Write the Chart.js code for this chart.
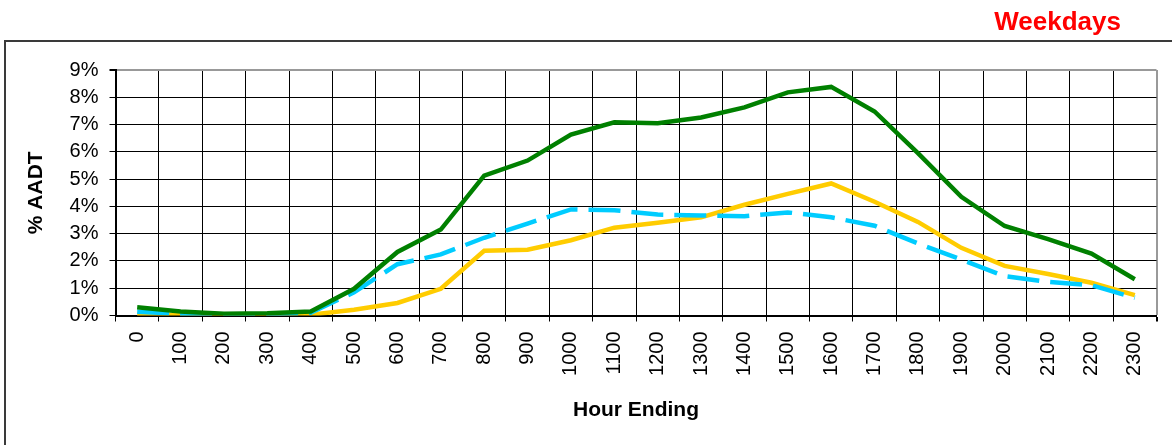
<!DOCTYPE html>
<html>
<head>
<meta charset="utf-8">
<script src="https://cdn.jsdelivr.net/npm/chart.js@4.4.1/dist/chart.umd.min.js"></script>
<style>
  html, body { margin: 0; padding: 0; background: #fff; }
  #wrap { width: 1172px; height: 445px; position: relative; }
</style>
</head>
<body>
<div id="wrap"><canvas id="c" width="1172" height="445"></canvas></div>
<script>
const hours = ['0','100','200','300','400','500','600','700','800','900','1000','1100',
               '1200','1300','1400','1500','1600','1700','1800','1900','2000','2100','2200','2300'];
const greenSeries  = [0.30,0.15,0.06,0.08,0.15,0.98,2.33,3.15,5.13,5.68,6.63,7.08,7.05,7.26,7.63,8.18,8.38,7.48,5.95,4.35,3.28,2.80,2.27,1.33];
const cyanSeries   = [0.14,0.06,0.03,0.05,0.10,0.85,1.88,2.24,2.85,3.37,3.89,3.86,3.70,3.67,3.64,3.78,3.60,3.29,2.64,2.05,1.44,1.23,1.11,0.65];
const yellowSeries = [0.03,0.02,0.02,0.02,0.03,0.21,0.46,0.98,2.37,2.41,2.76,3.22,3.40,3.60,4.06,4.46,4.84,4.17,3.43,2.48,1.82,1.52,1.20,0.75];
const yTicks = [0,1,2,3,4,5,6,7,8,9];
const chartTitle = 'Weekdays';
const xTitle = 'Hour Ending';
const yTitle = '% AADT';

const FONT = "'Liberation Sans', Arial, Helvetica, sans-serif";

const framePlugin = {
  id: 'frame',
  beforeDraw(chart) {
    const ctx = chart.ctx;
    ctx.save();
    ctx.fillStyle = '#fff';
    ctx.fillRect(0, 0, chart.width, chart.height);
    ctx.strokeStyle = '#3a3a3a';
    ctx.lineWidth = 2;
    ctx.beginPath();
    ctx.moveTo(5, chart.height + 2);
    ctx.lineTo(5, 41);
    ctx.lineTo(chart.width + 2, 41);
    ctx.stroke();
    ctx.restore();
  },
  afterLayout(chart) {
    const tb = chart.titleBlock;
    if (tb) { tb.right = 1121; tb.width = tb.right - tb.left; }
  }
};

new Chart(document.getElementById('c'), {
  type: 'line',
  data: {
    labels: hours,
    datasets: [
      { label: 'Green', data: greenSeries, borderColor: '#008000', borderWidth: 4.5, pointRadius: 0, tension: 0, fill: false },
      { label: 'Cyan', data: cyanSeries, borderColor: '#00CCFF', borderWidth: 4.5, borderDash: [32, 11], pointRadius: 0, tension: 0, fill: false },
      { label: 'Yellow', data: yellowSeries, borderColor: '#FFCC00', borderWidth: 4.5, pointRadius: 0, tension: 0, fill: false }
    ]
  },
  options: {
    responsive: false,
    animation: false,
    events: [],
    layout: { padding: { left: 10, right: 15.5, top: 0, bottom: 0 } },
    plugins: {
      legend: { display: false },
      tooltip: { enabled: false },
      title: {
        display: true, text: chartTitle, align: 'end', color: '#FF0000',
        font: { family: FONT, size: 26, weight: 'bold' },
        padding: { top: 7.5, bottom: 31.3 }
      }
    },
    scales: {
      x: {
        type: 'category',
        offset: true,
        grid: {
          offset: true,
          drawTicks: true,
          tickLength: 6,
          tickColor: '#000',
          color: (c) => c.type === 'scale' ? '#999' : '#000',
          lineWidth: (c) => c.type === 'scale' ? 2 : 1
        },
        border: { display: true, color: '#000', width: 2 },
        ticks: {
          autoSkip: false, maxRotation: 90, minRotation: 90, padding: 10,
          color: '#000', font: { family: FONT, size: 20 }
        },
        title: {
          display: true, text: xTitle, color: '#000',
          font: { family: FONT, size: 21, weight: 'bold' },
          padding: { top: 0, bottom: 22.4 }
        },
        afterFit(scale) { scale.height = 129.5; }
      },
      y: {
        min: 0, max: 9,
        afterBuildTicks(scale) { scale.ticks = yTicks.map(v => ({ value: v })); },
        grid: {
          drawTicks: true,
          tickLength: 6,
          tickColor: '#000',
          color: (c) => (c.tick && c.tick.value === 9) ? '#999' : '#000',
          lineWidth: (c) => (c.tick && c.tick.value === 9) ? 2 : 1
        },
        border: { display: true, color: '#000', width: 2 },
        ticks: {
          padding: 11, color: '#000', font: { family: FONT, size: 20 },
          callback: (v) => v + '%'
        },
        title: {
          display: true, text: yTitle, color: '#000',
          font: { family: FONT, size: 21, weight: 'bold' },
          padding: { top: 14, bottom: 0 }
        },
        afterFit(scale) { scale.width = 105.5; }
      }
    }
  },
  plugins: [framePlugin]
});
</script>
</body>
</html>
